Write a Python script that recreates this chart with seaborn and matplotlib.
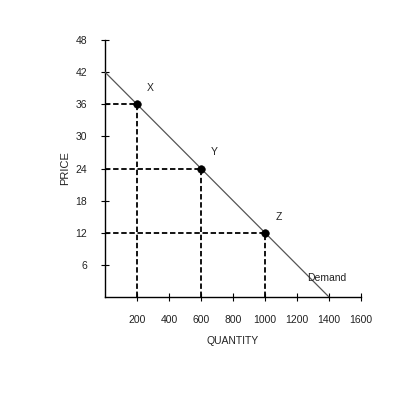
import matplotlib
matplotlib.use("Agg")
import matplotlib.pyplot as plt
import seaborn as sns
import pandas as pd

# ---------------- data ----------------
demand_q = [0, 1400]
demand_p = [42, 0]
point_q = [200, 600, 1000]
point_p = [36, 24, 12]
point_names = ["X", "Y", "Z"]
x_ticks = [200, 400, 600, 800, 1000, 1200, 1400, 1600]
y_ticks = [6, 12, 18, 24, 30, 36, 42, 48]

sns.set_style("ticks")
plt.rcParams['font.family'] = ['Liberation Sans', 'DejaVu Sans']

fig = plt.figure(figsize=(4, 4), dpi=100)
ax = fig.add_axes([0.2625, 0.2575, 0.64, 0.6425])

df_line = pd.DataFrame({"q": demand_q, "p": demand_p})
df_pts = pd.DataFrame({"q": point_q, "p": point_p, "name": point_names})

# dashed guide lines
ax.hlines(df_pts["p"], 0, df_pts["q"], colors="black", linestyles=(0, (3, 1.5)), linewidth=1.3, zorder=2)
ax.vlines(df_pts["q"], 0, df_pts["p"], colors="black", linestyles=(0, (3, 1.5)), linewidth=1.3, zorder=2)

sns.lineplot(data=df_line, x="q", y="p", ax=ax, color="#555555", linewidth=0.9, zorder=3)
sns.scatterplot(data=df_pts, x="q", y="p", ax=ax, color="black", s=30, edgecolor="black", zorder=4)

for q, p, n in zip(point_q, point_p, point_names):
    ax.text(q + 85, p + 3.0, n, fontsize=7.5, ha="center", va="center", color="#222222")
ax.text(1265, 3.6, "Demand", fontsize=7.5, ha="left", va="center", color="#222222")

ax.set_xlim(0, 1600)
ax.set_ylim(0, 48)
ax.set_xticks(x_ticks)
ax.set_yticks(y_ticks)
ax.tick_params(axis="both", direction="inout", length=6, width=0.8, labelsize=7.5,
               colors="black", labelcolor="#222222", bottom=True, left=True)
ax.tick_params(axis="x", pad=10)
ax.tick_params(axis="y", pad=10)
for s in ["top", "right"]:
    ax.spines[s].set_visible(False)
for s in ["left", "bottom"]:
    ax.spines[s].set_color("black")
    ax.spines[s].set_linewidth(1.0)

ax.set_xlabel("QUANTITY", fontsize=7.5, color="#222222", labelpad=8)
ax.set_ylabel("PRICE", fontsize=8, color="#222222", labelpad=4)

fig.savefig("out.png", dpi=100)
